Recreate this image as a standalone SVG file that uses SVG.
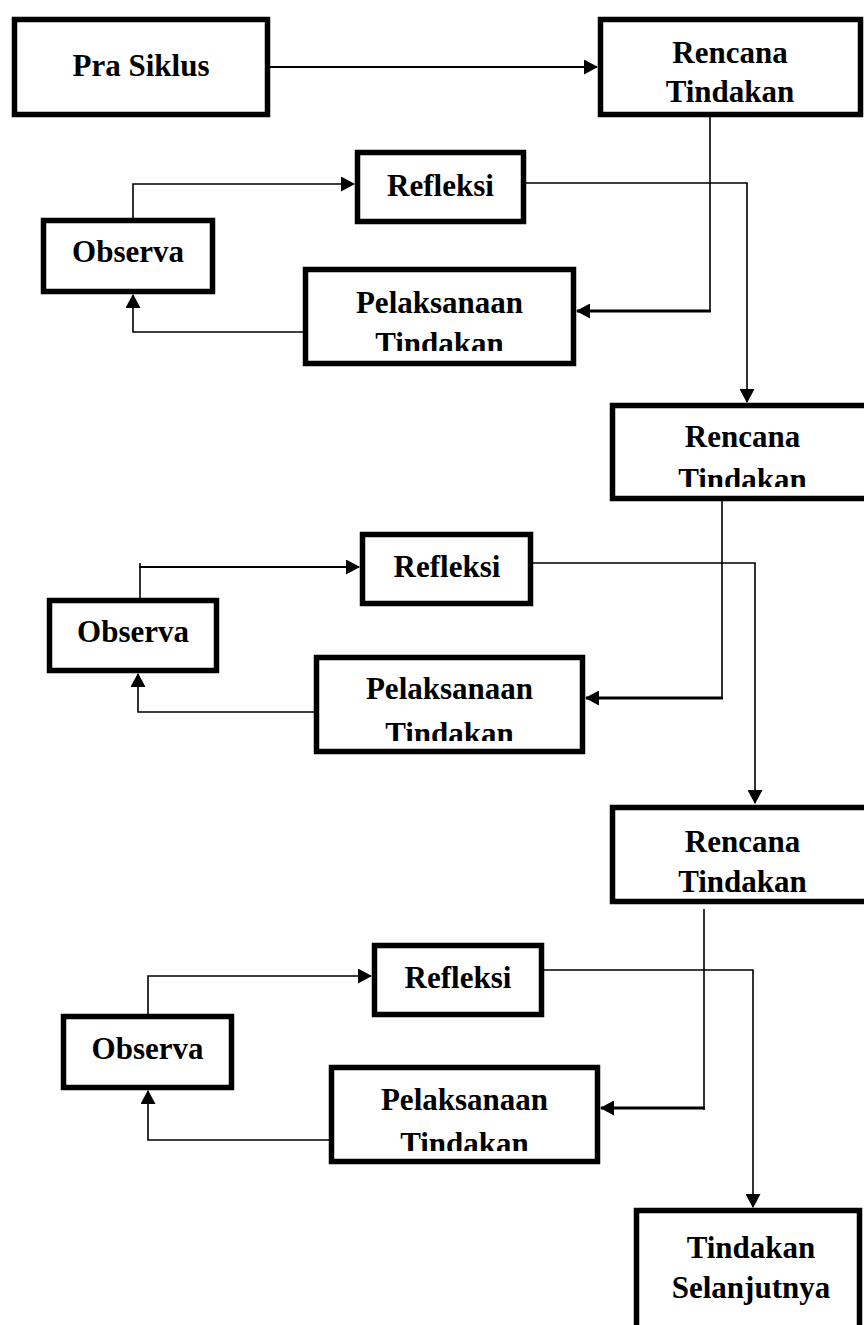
<svg xmlns="http://www.w3.org/2000/svg" width="864" height="1325" viewBox="0 0 864 1325">
<style>
.box{fill:#fff;stroke:#000;stroke-width:5.5}
.t{font-family:"Liberation Serif","Times New Roman",serif;font-weight:bold;font-size:31px;fill:#000;text-anchor:middle}
.c{fill:none;stroke:#000;stroke-width:1.6}
.c2{fill:none;stroke:#000;stroke-width:2}
.c3{fill:none;stroke:#000;stroke-width:3}
</style>
<defs>
<marker id="ah" markerUnits="userSpaceOnUse" markerWidth="14" markerHeight="15" viewBox="0 0 14 15" refX="13" refY="7.5" orient="auto">
<path d="M0,0 L14,7.5 L0,15 Z" fill="#000"/>
</marker>
<clipPath id="cp1"><rect x="300" y="260" width="290" height="91"/></clipPath>
<clipPath id="cr2"><rect x="600" y="400" width="264" height="87"/></clipPath>
<clipPath id="cp2"><rect x="310" y="650" width="280" height="91"/></clipPath>
<clipPath id="cp3"><rect x="325" y="1060" width="280" height="91"/></clipPath>
</defs>
<rect width="864" height="1325" fill="#fff"/>

<g id="connectors">
<path class="c2" d="M270,67 H597" marker-end="url(#ah)"/>
<path class="c" d="M710,117 V311"/>
<path class="c3" d="M711,311 H577" marker-end="url(#ah)"/>
<path class="c" d="M303,332 H133 V295" marker-end="url(#ah)"/>
<path class="c" d="M133,218 V184 H354" marker-end="url(#ah)"/>
<path class="c" d="M526,183 H747 V402" marker-end="url(#ah)"/>
<path class="c" d="M722,501 V698"/>
<path class="c3" d="M723,698 H586" marker-end="url(#ah)"/>
<path class="c" d="M314,712 H138 V674" marker-end="url(#ah)"/>
<path class="c" d="M140,598 V563"/>
<path class="c2" d="M139,567 H359" marker-end="url(#ah)"/>
<path class="c" d="M533,563 H755 V803" marker-end="url(#ah)"/>
<path class="c" d="M704,909 V1110"/>
<path class="c3" d="M705,1108 H601" marker-end="url(#ah)"/>
<path class="c" d="M329,1140 H148 V1091" marker-end="url(#ah)"/>
<path class="c" d="M148,1014 V976 H371" marker-end="url(#ah)"/>
<path class="c" d="M544,970 H753 V1207" marker-end="url(#ah)"/>
</g>

<g id="pra-siklus">
<rect class="box" x="14.5" y="19.5" width="253" height="95"/>
<text class="t" x="141" y="76">Pra Siklus</text>
</g>

<g id="rencana-1">
<rect class="box" x="600.5" y="19.5" width="260" height="95"/>
<text class="t" x="730" y="63">Rencana</text>
<text class="t" x="730" y="102">Tindakan</text>
</g>

<g id="refleksi-1">
<rect class="box" x="357.5" y="152.5" width="166" height="69"/>
<text class="t" x="440.5" y="196">Refleksi</text>
</g>

<g id="observa-1">
<rect class="box" x="43.5" y="220.5" width="169" height="71"/>
<text class="t" x="128" y="262">Observa</text>
</g>

<g id="pelaksanaan-1">
<rect class="box" x="305.5" y="269.5" width="268" height="94"/>
<text class="t" x="439.5" y="313">Pelaksanaan</text>
<text class="t" x="439.5" y="354" clip-path="url(#cp1)">Tindakan</text>
</g>

<g id="rencana-2">
<rect class="box" x="612.5" y="405.5" width="270" height="93"/>
<text class="t" x="742.5" y="447">Rencana</text>
<text class="t" x="742.5" y="490" clip-path="url(#cr2)">Tindakan</text>
</g>

<g id="refleksi-2">
<rect class="box" x="362.5" y="534.5" width="168" height="69"/>
<text class="t" x="447" y="577">Refleksi</text>
</g>

<g id="observa-2">
<rect class="box" x="49.5" y="600.5" width="167" height="70"/>
<text class="t" x="133" y="642">Observa</text>
</g>

<g id="pelaksanaan-2">
<rect class="box" x="316.5" y="657.5" width="266" height="94"/>
<text class="t" x="449.5" y="699">Pelaksanaan</text>
<text class="t" x="449.5" y="744" clip-path="url(#cp2)">Tindakan</text>
</g>

<g id="rencana-3">
<rect class="box" x="612.5" y="807.5" width="270" height="94"/>
<text class="t" x="742.5" y="852">Rencana</text>
<text class="t" x="742.5" y="892">Tindakan</text>
</g>

<g id="refleksi-3">
<rect class="box" x="374.5" y="945.5" width="167" height="69"/>
<text class="t" x="458" y="988">Refleksi</text>
</g>

<g id="observa-3">
<rect class="box" x="63.5" y="1016.5" width="168" height="71"/>
<text class="t" x="147.5" y="1059">Observa</text>
</g>

<g id="pelaksanaan-3">
<rect class="box" x="331.5" y="1067.5" width="266" height="94"/>
<text class="t" x="464.5" y="1110">Pelaksanaan</text>
<text class="t" x="464.5" y="1154" clip-path="url(#cp3)">Tindakan</text>
</g>

<g id="tindakan-selanjutnya">
<rect class="box" x="636.5" y="1210.5" width="223" height="130"/>
<text class="t" x="751" y="1258">Tindakan</text>
<text class="t" x="751" y="1298">Selanjutnya</text>
</g>
</svg>
